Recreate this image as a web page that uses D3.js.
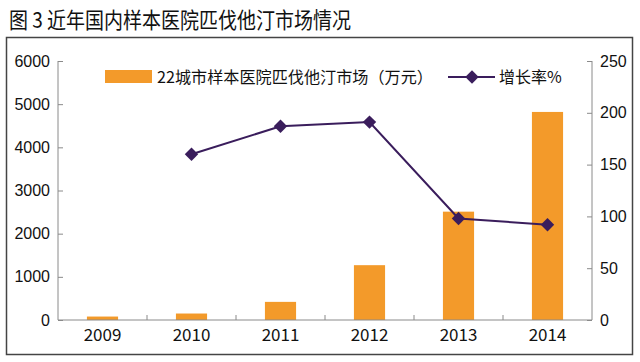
<!DOCTYPE html>
<html>
<head>
<meta charset="utf-8">
<script src="https://cdn.jsdelivr.net/npm/d3@7"></script>
<style>
  body { margin: 0; background: #fff; }
  svg { display: block; }
</style>
</head>
<body>
<svg id="chart" width="640" height="362"></svg>
<script>
// data
const years = ["2009", "2010", "2011", "2012", "2013", "2014"];
const market = [80, 150, 420, 1270, 2510, 4820];          // 万元
const growthYears = ["2010", "2011", "2012", "2013", "2014"];
const growth = [160, 187, 191, 98, 92];                    // %
const leftTicks = [0, 1000, 2000, 3000, 4000, 5000, 6000];
const rightTicks = [0, 50, 100, 150, 200, 250];

const svg = d3.select("#chart");
const W = 640, H = 362;
const margin = { top: 61, right: 48, bottom: 42, left: 58 };
const innerW = W - margin.left - margin.right;
const innerH = H - margin.top - margin.bottom;

const barColor = "#f39a2a";
const lineColor = "#3a1d5c";
const axisColor = "#8a8a8a";
const tickFont = "'Liberation Sans', Arial, sans-serif";
const cjkFont = "'Noto Sans CJK SC', 'Noto Sans', sans-serif";

// title
svg.append("text")
  .attr("x", 9).attr("y", 28)
  .attr("font-family", cjkFont)
  .attr("font-size", 22)
  .attr("textLength", 342)
  .attr("lengthAdjust", "spacingAndGlyphs")
  .attr("fill", "#111")
  .text("图 3  近年国内样本医院匹伐他汀市场情况");

// frame
svg.append("rect")
  .attr("x", 6.5).attr("y", 37.5)
  .attr("width", 626).attr("height", 317)
  .attr("fill", "none")
  .attr("stroke", "#444")
  .attr("stroke-width", 1.5);

const chart = svg.append("g")
  .attr("transform", `translate(${margin.left}, ${margin.top})`);

const x = d3.scaleBand().domain(years).range([0, innerW]).paddingInner(0).paddingOuter(0);
const yL = d3.scaleLinear().domain([0, 6000]).range([innerH, 0]);
const yR = d3.scaleLinear().domain([0, 250]).range([innerH, 0]);

// bars
const barW = x.bandwidth() * 0.35;
chart.selectAll(".bar")
  .data(years.map((d, i) => ({ year: d, value: market[i] })))
  .enter()
  .append("rect")
  .attr("fill", barColor)
  .attr("x", (d) => x(d.year) + (x.bandwidth() - barW) / 2)
  .attr("y", (d) => yL(d.value))
  .attr("width", barW)
  .attr("height", (d) => innerH - yL(d.value));

// left axis
const leftAxis = chart.append("g")
  .call(d3.axisLeft(yL).tickValues(leftTicks).tickFormat(d3.format("d")).tickSize(-5).tickPadding(8));
leftAxis.select(".domain").attr("stroke", axisColor).attr("d", `M0,0V${innerH}`);
leftAxis.selectAll(".tick line").attr("stroke", axisColor);
leftAxis.selectAll("text")
  .attr("font-family", tickFont).attr("font-size", 16).attr("fill", "#111");

// right axis
const rightAxis = chart.append("g")
  .attr("transform", `translate(${innerW}, 0)`)
  .call(d3.axisRight(yR).tickValues(rightTicks).tickFormat(d3.format("d")).tickSize(-5).tickPadding(8));
rightAxis.select(".domain").attr("stroke", axisColor).attr("d", `M0,0V${innerH}`);
rightAxis.selectAll(".tick line").attr("stroke", axisColor);
rightAxis.selectAll("text")
  .attr("font-family", tickFont).attr("font-size", 16).attr("fill", "#111");

// bottom axis, ticks between categories
const bottomAxis = chart.append("g")
  .attr("transform", `translate(0, ${innerH})`)
  .call(d3.axisBottom(x).tickSize(0).tickPadding(9));
bottomAxis.select(".domain").attr("stroke", axisColor).attr("d", `M0,0H${innerW}`);
bottomAxis.selectAll("text")
  .attr("font-family", cjkFont).attr("font-size", 17).attr("fill", "#111");
chart.append("g")
  .selectAll("line")
  .data(years.slice(1))
  .enter()
  .append("line")
  .attr("x1", (d) => x(d)).attr("x2", (d) => x(d))
  .attr("y1", innerH).attr("y2", innerH - 5)
  .attr("stroke", axisColor);

// growth line
const cx = (d) => x(d) + x.bandwidth() / 2;
const pts = growthYears.map((d, i) => ({ year: d, value: growth[i] }));
chart.append("path")
  .datum(pts)
  .attr("fill", "none")
  .attr("stroke", lineColor)
  .attr("stroke-width", 2)
  .attr("d", d3.line().x((d) => cx(d.year)).y((d) => yR(d.value)));

chart.selectAll(".pt")
  .data(pts)
  .enter()
  .append("path")
  .attr("fill", lineColor)
  .attr("transform", (d) => `translate(${cx(d.year)}, ${yR(d.value)}) rotate(45)`)
  .attr("d", d3.symbol().type(d3.symbolSquare).size(90));

// legend
const legend = svg.append("g");
legend.append("rect")
  .attr("x", 105).attr("y", 70).attr("width", 47).attr("height", 13)
  .attr("fill", barColor);
legend.append("text")
  .attr("x", 157).attr("y", 83)
  .attr("font-family", cjkFont).attr("font-size", 16).attr("fill", "#111")
  .attr("textLength", 276).attr("lengthAdjust", "spacingAndGlyphs")
  .text("22城市样本医院匹伐他汀市场（万元）");
legend.append("line")
  .attr("x1", 448).attr("x2", 495).attr("y1", 77).attr("y2", 77)
  .attr("stroke", lineColor).attr("stroke-width", 2);
legend.append("path")
  .attr("fill", lineColor)
  .attr("transform", "translate(472, 77) rotate(45)")
  .attr("d", d3.symbol().type(d3.symbolSquare).size(90));
legend.append("text")
  .attr("x", 499).attr("y", 83)
  .attr("font-family", cjkFont).attr("font-size", 16).attr("fill", "#111")
  .text("增长率%");
</script>
</body>
</html>
